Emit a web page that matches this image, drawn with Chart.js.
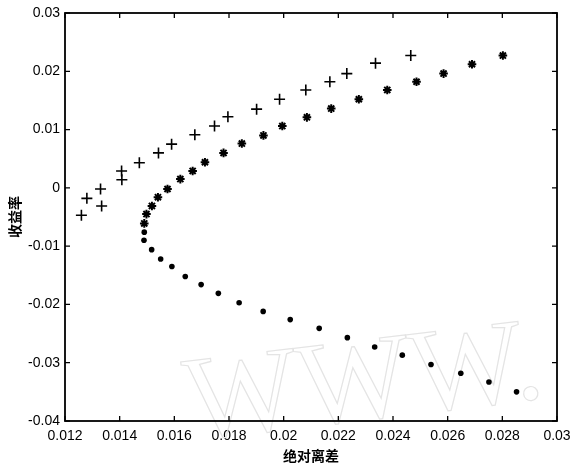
<!DOCTYPE html>
<html>
<head>
<meta charset="utf-8">
<script src="https://cdn.jsdelivr.net/npm/chart.js@4.4.1/dist/chart.umd.min.js"></script>
<style>
html,body{margin:0;padding:0;background:#fff;}
#wrap{width:572px;height:471px;position:relative;}
</style>
</head>
<body>
<div id="wrap"><canvas id="c" width="572" height="471"></canvas></div>
<script>
// Series: "+" markers (upper branch)
const plusX = [0.0126,0.0128,0.0133,0.01334,0.01407,0.01408,0.01472,0.01542,0.0159,0.01675,0.01747,0.01796,0.01901,0.01985,0.02081,0.02169,0.02231,0.02336,0.02465];
const plusY = [-0.0047,-0.0018,-0.0002,-0.0031,0.0029,0.0014,0.0043,0.0060,0.0075,0.0091,0.0106,0.0122,0.0135,0.0152,0.0168,0.0182,0.0196,0.0214,0.0227];
// Series: "*" markers (middle branch)
const starX = [0.0149,0.01498,0.01518,0.0154,0.01575,0.01622,0.01667,0.01712,0.0178,0.01847,0.01926,0.01995,0.02085,0.02174,0.02275,0.02379,0.02486,0.02585,0.02689,0.02802];
const starY = [-0.0061,-0.0045,-0.0031,-0.0016,-0.0002,0.0015,0.0029,0.0044,0.0060,0.0076,0.0090,0.0106,0.0121,0.0136,0.0152,0.0168,0.0182,0.0196,0.0212,0.0227];
// Series: dot markers (lower branch)
const dotX = [0.0149,0.01489,0.01517,0.0155,0.01591,0.0164,0.01698,0.01761,0.01837,0.01925,0.02024,0.0213,0.02233,0.02333,0.02434,0.02539,0.02648,0.02751,0.02852];
const dotY = [-0.0076,-0.0090,-0.0106,-0.0122,-0.0135,-0.0152,-0.0166,-0.0181,-0.0197,-0.0212,-0.0226,-0.0241,-0.0257,-0.0273,-0.0287,-0.0303,-0.0318,-0.0333,-0.0350];
// Ticks
const xTicks = [0.012,0.014,0.016,0.018,0.02,0.022,0.024,0.026,0.028,0.03];
const xTickLabels = ['0.012','0.014','0.016','0.018','0.02','0.022','0.024','0.026','0.028','0.03'];
const yTicks = [-0.04,-0.03,-0.02,-0.01,0,0.01,0.02,0.03];
const yTickLabels = ['-0.04','-0.03','-0.02','-0.01','0','0.01','0.02','0.03'];
const xTitle = '绝对离差';
const yTitle = '收益率';
const watermark = 'WWW.';

function pts(xs, ys){ return xs.map((x,i)=>({x:x,y:ys[i]})); }

const tickFont = {family:'"Liberation Sans", Arial, sans-serif', size:14};
const titleFont = {family:'"Noto Sans CJK SC", sans-serif', size:14, weight:'bold'};

const framePlugin = {
  id:'frame',
  beforeDatasetsDraw(chart){
    const ctx = chart.ctx;
    ctx.save();
    ctx.font = '120px "Liberation Serif", "DejaVu Serif", serif';
    ctx.strokeStyle = '#e4e4e4';
    ctx.lineWidth = 1.2;
    ctx.textBaseline = 'alphabetic';
    ctx.translate(190, 440);
    ctx.rotate(-0.12);
    ctx.strokeText(watermark, 0, 0);
    ctx.restore();
  },
  afterDraw(chart){
    const ctx = chart.ctx, a = chart.chartArea;
    const xs = chart.scales.x, ys = chart.scales.y;
    ctx.save();
    ctx.strokeStyle = '#000';
    ctx.lineWidth = 1.8;
    ctx.strokeRect(a.left, a.top, a.right - a.left, a.bottom - a.top);
    ctx.lineWidth = 1.3;
    const L = 5;
    ctx.beginPath();
    xTicks.forEach(v=>{
      const px = xs.getPixelForValue(v);
      ctx.moveTo(px, a.bottom); ctx.lineTo(px, a.bottom - L);
      ctx.moveTo(px, a.top); ctx.lineTo(px, a.top + L);
    });
    yTicks.forEach(v=>{
      const py = ys.getPixelForValue(v);
      ctx.moveTo(a.left, py); ctx.lineTo(a.left + L, py);
      ctx.moveTo(a.right, py); ctx.lineTo(a.right - L, py);
    });
    ctx.stroke();
    ctx.restore();
  }
};

new Chart(document.getElementById('c'), {
  type:'scatter',
  data:{
    datasets:[
      {label:'plus', data:pts(plusX,plusY), pointStyle:'cross', pointRadius:5.5, borderColor:'#000', backgroundColor:'#000', pointBorderWidth:1.6},
      {label:'star', data:pts(starX,starY), pointStyle:'star', pointRadius:4.3, borderColor:'#000', backgroundColor:'#000', pointBorderWidth:2},
      {label:'dot', data:pts(dotX,dotY), pointStyle:'circle', pointRadius:2.8, borderColor:'#000', backgroundColor:'#000', pointBorderWidth:0}
    ]
  },
  options:{
    responsive:false,
    animation:false,
    events:[],
    layout:{padding:{top:13,right:15,left:0,bottom:0}},
    plugins:{legend:{display:false}, tooltip:{enabled:false}},
    scales:{
      x:{
        type:'linear', min:0.012, max:0.03,
        afterBuildTicks(s){ s.ticks = xTicks.map(v=>({value:v})); },
        afterFit(s){ s.height = 50; s.paddingRight = 0; s.paddingLeft = 0; },
        grid:{display:false, drawTicks:false},
        border:{display:false},
        ticks:{color:'#000', font:tickFont, padding:7, maxRotation:0, autoSkip:false,
          callback:(v)=>{ const i = xTicks.findIndex(t=>Math.abs(t-v)<1e-9); return i>=0 ? xTickLabels[i] : ''; }},
        title:{display:true, text:xTitle, color:'#000', font:titleFont, padding:{top:0,bottom:7}}
      },
      y:{
        type:'linear', min:-0.04, max:0.03,
        afterBuildTicks(s){ s.ticks = yTicks.map(v=>({value:v})); },
        afterFit(s){ s.width = 65; s.paddingTop = 0; s.paddingBottom = 0; },
        grid:{display:false, drawTicks:false},
        border:{display:false},
        ticks:{color:'#000', font:tickFont, padding:5, autoSkip:false,
          callback:(v)=>{ const i = yTicks.findIndex(t=>Math.abs(t-v)<1e-9); return i>=0 ? yTickLabels[i] : ''; }},
        title:{display:true, text:yTitle, color:'#000', font:titleFont, padding:{top:6,bottom:0}}
      }
    }
  },
  plugins:[framePlugin]
});
</script>
</body>
</html>
